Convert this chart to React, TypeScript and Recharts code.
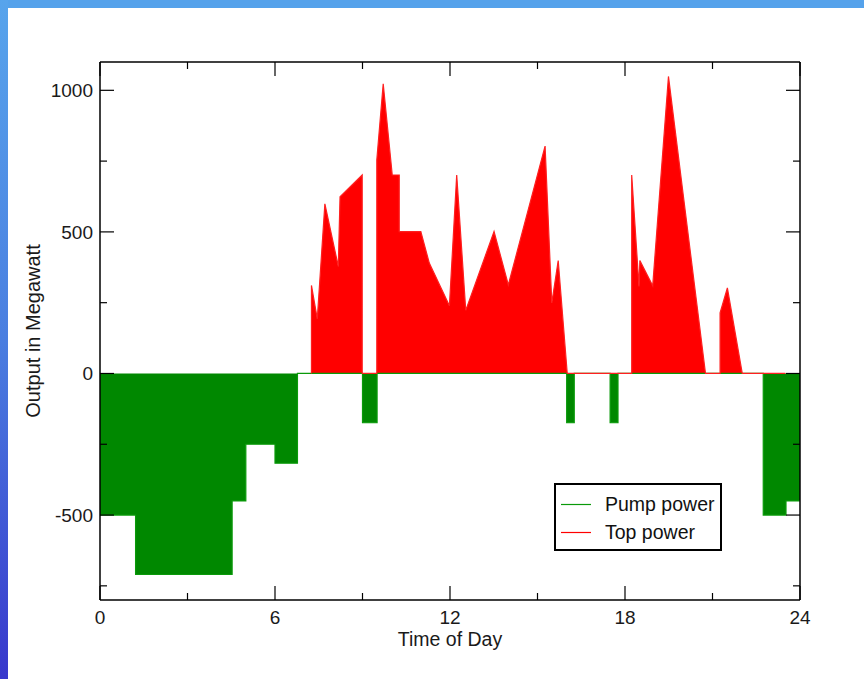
import React from 'react';
import { ComposedChart, Area, Line, XAxis, YAxis, Legend } from 'recharts';

// pump power: step function, value holds from each hour until the next one
const pumpHours = [0, 1.22, 4.53, 5.0, 6.0, 6.77, 9.0, 9.5, 16.0, 16.26, 17.49, 17.76, 22.74, 23.52, 24];
const pumpValues = [-500, -710, -450, -250, -317, 0, -174, 0, -174, 0, -174, 0, -500, -450, -450];

// top power: piecewise linear, repeated hours are vertical jumps
const topHours = [
  7.25, 7.25, 7.45, 7.71, 8.17, 8.23, 8.99, 8.99, 9.49, 9.49, 9.71, 10.02, 10.26, 10.26, 11.0, 11.29,
  11.98, 12.23, 12.54, 13.51, 14.0, 15.26, 15.49, 15.71, 16.02, 18.23, 18.23, 18.48, 18.51, 18.95,
  19.49, 20.76, 21.26, 21.26, 21.51, 22.02, 23.5,
];
const topValues = [
  0, 311, 193, 599, 378, 624, 701, 0, 0, 754, 1023, 701, 701, 501, 501, 390,
  239, 701, 223, 501, 313, 803, 249, 399, 0, 0, 701, 307, 399, 310,
  1049, 0, 0, 214, 302, 0, 0,
];

const xTicks = [0, 3, 6, 9, 12, 15, 18, 21, 24];
const xLabelled = [0, 6, 12, 18, 24];
const yTicks = [-750, -500, -250, 0, 250, 500, 750, 1000];
const yLabelled = [-500, 0, 500, 1000];

const pumpData = pumpHours.map((t, i) => ({ t, v: pumpValues[i] }));
const topData = topHours.map((t, i) => ({ t, v: topValues[i] }));

const FONT = '"Liberation Sans", Arial, sans-serif';
const MAJOR = 14;
const MINOR = 7;

const bottomTick = (props: any) => {
  const { x, y, payload } = props;
  const major = xLabelled.includes(payload.value);
  return (
    <g>
      <line x1={x} y1={y} x2={x} y2={y - (major ? MAJOR : MINOR)} stroke="#000" strokeWidth={1.2} />
      {major && (
        <text x={x} y={y + 11} dy="0.71em" textAnchor="middle" fontSize={19} fontFamily={FONT} fill="#1a1a1a">
          {payload.value}
        </text>
      )}
    </g>
  );
};

const topTick = (props: any) => {
  const { x, y, payload } = props;
  const major = xLabelled.includes(payload.value);
  return <line x1={x} y1={y} x2={x} y2={y + (major ? MAJOR : MINOR)} stroke="#000" strokeWidth={1.2} />;
};

const leftTick = (props: any) => {
  const { x, y, payload } = props;
  const major = yLabelled.includes(payload.value);
  return (
    <g>
      <line x1={x} y1={y} x2={x + (major ? MAJOR : MINOR)} y2={y} stroke="#000" strokeWidth={1.2} />
      {major && (
        <text x={x - 7} y={y} dy="0.355em" textAnchor="end" fontSize={19} fontFamily={FONT} fill="#1a1a1a">
          {payload.value}
        </text>
      )}
    </g>
  );
};

const rightTick = (props: any) => {
  const { x, y, payload } = props;
  const major = yLabelled.includes(payload.value);
  return <line x1={x} y1={y} x2={x - (major ? MAJOR : MINOR)} y2={y} stroke="#000" strokeWidth={1.2} />;
};

const renderLegend = (props: any) => {
  const items = (props.payload || [])
    .filter((a: any) => a.type !== 'none' && !String(a.value).includes('outline'))
    .sort((a: any, b: any) => String(a.value).localeCompare(String(b.value)));
  return (
    <div
      style={{
        border: '2px solid #000',
        boxSizing: 'border-box',
        width: 168,
        height: 68,
        paddingTop: 5,
        background: '#fff',
        fontFamily: FONT,
      }}
    >
      {items.map((item: any) => (
        <div key={item.value} style={{ display: 'flex', alignItems: 'center', height: 28.5 }}>
          <svg width={30} height={3} style={{ marginLeft: 5 }}>
            <line x1={0} y1={1.5} x2={30} y2={1.5} stroke={item.color} strokeWidth={1.2} />
          </svg>
          <span style={{ marginLeft: 14, fontSize: 19.5, color: '#111' }}>{item.value}</span>
        </div>
      ))}
    </div>
  );
};

const axisLine = { stroke: '#000', strokeWidth: 1.5 };

export default function App() {
  return (
    <div style={{ position: 'absolute', left: 0, top: 0, width: 864, height: 679, background: '#fff', overflow: 'hidden' }}>
      <ComposedChart width={864} height={679} margin={{ top: 61, right: 63, bottom: 78, left: 99 }}>
        <XAxis
          xAxisId="bottom"
          type="number"
          dataKey="t"
          domain={[0, 24]}
          ticks={xTicks}
          interval={0}
          allowDataOverflow
          height={1}
          tickSize={0}
          tickMargin={0}
          tickLine={false}
          axisLine={axisLine}
          tick={bottomTick}
          label={{ value: 'Time of Day', position: 'bottom', offset: 31, fontSize: 19.5, fontFamily: FONT, fill: '#1a1a1a' }}
        />
        <XAxis
          xAxisId="top"
          orientation="top"
          type="number"
          dataKey="t"
          domain={[0, 24]}
          ticks={xTicks}
          interval={0}
          allowDataOverflow
          height={1}
          tickSize={0}
          tickMargin={0}
          tickLine={false}
          axisLine={axisLine}
          tick={topTick}
        />
        <YAxis
          yAxisId="left"
          type="number"
          domain={[-800, 1100]}
          ticks={yTicks}
          interval={0}
          allowDataOverflow
          width={1}
          tickSize={0}
          tickMargin={0}
          tickLine={false}
          axisLine={axisLine}
          tick={leftTick}
          label={{
            value: 'Output in Megawatt',
            angle: -90,
            position: 'left',
            offset: 66,
            textAnchor: 'middle',
            fontSize: 20,
            fontFamily: FONT,
            fill: '#1a1a1a',
          }}
        />
        <YAxis
          yAxisId="right"
          orientation="right"
          type="number"
          domain={[-800, 1100]}
          ticks={yTicks}
          interval={0}
          allowDataOverflow
          width={1}
          tickSize={0}
          tickMargin={0}
          tickLine={false}
          axisLine={axisLine}
          tick={rightTick}
        />
        <Area
          xAxisId="bottom"
          yAxisId="left"
          data={topData}
          dataKey="v"
          name="Top power"
          type="linear"
          baseValue={0}
          fill="#ff0000"
          fillOpacity={1}
          stroke="none"
          dot={false}
          activeDot={false}
          isAnimationActive={false}
        />
        <Area
          xAxisId="bottom"
          yAxisId="left"
          data={pumpData}
          dataKey="v"
          name="Pump power"
          type="stepAfter"
          baseValue={0}
          fill="#008800"
          fillOpacity={1}
          stroke="#0a9a0a"
          strokeWidth={1.2}
          dot={false}
          activeDot={false}
          isAnimationActive={false}
        />
        <Line
          xAxisId="bottom"
          yAxisId="left"
          data={topData}
          dataKey="v"
          name="Top power outline"
          type="linear"
          stroke="#ff2020"
          strokeWidth={1.2}
          dot={false}
          activeDot={false}
          legendType="none"
          isAnimationActive={false}
        />
        <Legend
          layout="vertical"
          align="center"
          verticalAlign="middle"
          content={renderLegend}
          wrapperStyle={{ left: 554, top: 483, width: 168 }}
        />
      </ComposedChart>
      <div style={{ position: 'absolute', left: 0, top: 0, width: 864, height: 8, background: '#55a2eb' }} />
      <div
        style={{
          position: 'absolute',
          left: 0,
          top: 0,
          width: 8,
          height: 679,
          background: 'linear-gradient(to bottom, #57a4ec, #4a7ee0 50%, #3838cc)',
        }}
      />
    </div>
  );
}
